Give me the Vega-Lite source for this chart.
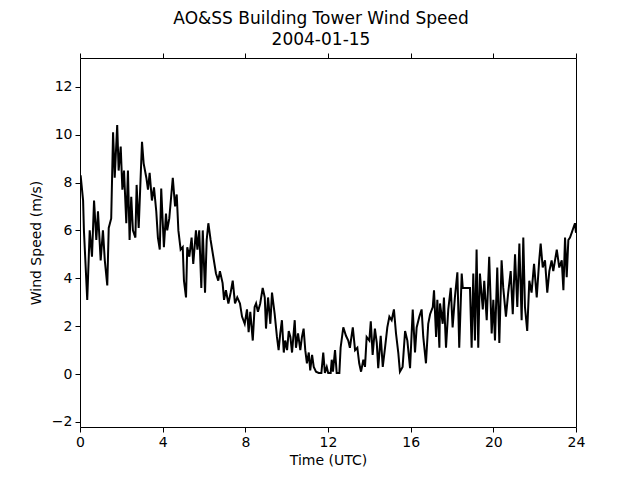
{
  "$schema": "https://vega.github.io/schema/vega-lite/v6.json",
  "width": 496,
  "height": 369,
  "autosize": {"type": "none"},
  "padding": {"left": 80, "top": 58, "right": 64, "bottom": 53},
  "background": "white",
  "title": {
    "text": ["AO&SS Building Tower Wind Speed", "2004-01-15"],
    "font": "DejaVu Sans",
    "fontSize": 17,
    "fontWeight": "normal",
    "color": "black",
    "anchor": "middle",
    "dx": -7,
    "lineHeight": 21,
    "offset": 4
  },
  "config": {
    "view": {"stroke": "black", "strokeWidth": 1},
    "axis": {
      "domain": false,
      "grid": false,
      "tickColor": "black",
      "tickSize": 5,
      "tickWidth": 1,
      "labelFont": "DejaVu Sans",
      "labelFontSize": 14,
      "labelColor": "black",
      "labelPadding": 3,
      "titleFont": "DejaVu Sans",
      "titleFontSize": 14,
      "titleFontWeight": "normal",
      "titleColor": "black"
    }
  },
  "data": {
    "values": [
      {"t": 0.0, "ws": 8.2}, {"t": 0.03, "ws": 8.3}, {"t": 0.15, "ws": 7.25}, {"t": 0.19, "ws": 6.0},
      {"t": 0.35, "ws": 3.1}, {"t": 0.47, "ws": 6.0}, {"t": 0.58, "ws": 4.9}, {"t": 0.68, "ws": 7.25},
      {"t": 0.79, "ws": 5.6}, {"t": 0.87, "ws": 6.8}, {"t": 1.0, "ws": 4.75}, {"t": 1.11, "ws": 6.0},
      {"t": 1.2, "ws": 4.75}, {"t": 1.32, "ws": 3.7}, {"t": 1.39, "ws": 6.1}, {"t": 1.51, "ws": 6.5},
      {"t": 1.6, "ws": 10.1}, {"t": 1.68, "ws": 8.2}, {"t": 1.8, "ws": 10.4}, {"t": 1.87, "ws": 8.5},
      {"t": 1.97, "ws": 9.5}, {"t": 2.05, "ws": 7.7}, {"t": 2.13, "ws": 8.5}, {"t": 2.24, "ws": 6.3},
      {"t": 2.32, "ws": 8.5}, {"t": 2.4, "ws": 5.6}, {"t": 2.48, "ws": 7.4}, {"t": 2.56, "ws": 6.0},
      {"t": 2.68, "ws": 5.7}, {"t": 2.74, "ws": 7.9}, {"t": 2.84, "ws": 6.1}, {"t": 3.0, "ws": 9.7},
      {"t": 3.08, "ws": 8.8}, {"t": 3.21, "ws": 8.2}, {"t": 3.29, "ws": 7.7}, {"t": 3.37, "ws": 8.4},
      {"t": 3.48, "ws": 7.25}, {"t": 3.58, "ws": 7.8}, {"t": 3.69, "ws": 6.8}, {"t": 3.77, "ws": 5.7},
      {"t": 3.86, "ws": 5.2}, {"t": 3.93, "ws": 7.75}, {"t": 4.0, "ws": 6.4}, {"t": 4.06, "ws": 5.3},
      {"t": 4.16, "ws": 6.7}, {"t": 4.22, "ws": 6.0}, {"t": 4.32, "ws": 6.5}, {"t": 4.49, "ws": 8.2},
      {"t": 4.6, "ws": 7.0}, {"t": 4.68, "ws": 7.5}, {"t": 4.76, "ws": 6.0}, {"t": 4.87, "ws": 5.2},
      {"t": 4.97, "ws": 5.3}, {"t": 5.03, "ws": 3.9}, {"t": 5.13, "ws": 3.2}, {"t": 5.19, "ws": 5.3},
      {"t": 5.29, "ws": 4.9}, {"t": 5.4, "ws": 5.7}, {"t": 5.48, "ws": 4.6}, {"t": 5.61, "ws": 6.0},
      {"t": 5.68, "ws": 5.2}, {"t": 5.77, "ws": 6.0}, {"t": 5.87, "ws": 3.6}, {"t": 5.94, "ws": 6.0},
      {"t": 6.05, "ws": 3.4}, {"t": 6.13, "ws": 5.6}, {"t": 6.21, "ws": 6.3}, {"t": 6.32, "ws": 5.6},
      {"t": 6.45, "ws": 4.9}, {"t": 6.58, "ws": 4.2}, {"t": 6.69, "ws": 3.9}, {"t": 6.77, "ws": 4.3},
      {"t": 6.9, "ws": 3.8}, {"t": 6.97, "ws": 3.1}, {"t": 7.06, "ws": 3.5}, {"t": 7.18, "ws": 2.95},
      {"t": 7.29, "ws": 3.4}, {"t": 7.39, "ws": 3.9}, {"t": 7.5, "ws": 2.95}, {"t": 7.61, "ws": 3.2},
      {"t": 7.74, "ws": 2.95}, {"t": 7.84, "ws": 2.4}, {"t": 7.97, "ws": 2.1}, {"t": 8.08, "ws": 2.7},
      {"t": 8.16, "ws": 1.75}, {"t": 8.24, "ws": 2.6}, {"t": 8.36, "ws": 1.4}, {"t": 8.45, "ws": 2.8},
      {"t": 8.52, "ws": 2.95}, {"t": 8.61, "ws": 2.6}, {"t": 8.72, "ws": 2.95}, {"t": 8.84, "ws": 3.6},
      {"t": 8.94, "ws": 3.2}, {"t": 9.0, "ws": 1.9}, {"t": 9.1, "ws": 3.2}, {"t": 9.21, "ws": 2.1},
      {"t": 9.29, "ws": 3.4}, {"t": 9.42, "ws": 2.5}, {"t": 9.53, "ws": 1.55}, {"t": 9.61, "ws": 1.0},
      {"t": 9.69, "ws": 1.7}, {"t": 9.77, "ws": 2.25}, {"t": 9.86, "ws": 0.9}, {"t": 9.93, "ws": 1.4},
      {"t": 10.02, "ws": 1.0}, {"t": 10.1, "ws": 1.8}, {"t": 10.18, "ws": 1.55}, {"t": 10.26, "ws": 0.9},
      {"t": 10.39, "ws": 2.25}, {"t": 10.45, "ws": 1.1}, {"t": 10.55, "ws": 1.7}, {"t": 10.66, "ws": 1.0},
      {"t": 10.74, "ws": 1.55}, {"t": 10.82, "ws": 1.9}, {"t": 10.9, "ws": 1.0}, {"t": 10.98, "ws": 0.45},
      {"t": 11.07, "ws": 0.9}, {"t": 11.14, "ws": 0.15}, {"t": 11.23, "ws": 0.8}, {"t": 11.31, "ws": 0.3},
      {"t": 11.42, "ws": 0.1}, {"t": 11.55, "ws": 0.05}, {"t": 11.68, "ws": 0.05}, {"t": 11.77, "ws": 0.9},
      {"t": 11.85, "ws": 0.05}, {"t": 11.94, "ws": 0.3}, {"t": 12.01, "ws": 0.05}, {"t": 12.13, "ws": 0.05},
      {"t": 12.18, "ws": 0.6}, {"t": 12.24, "ws": 0.1}, {"t": 12.34, "ws": 1.0}, {"t": 12.42, "ws": 0.05},
      {"t": 12.55, "ws": 0.05}, {"t": 12.61, "ws": 1.1}, {"t": 12.74, "ws": 1.95}, {"t": 12.87, "ws": 1.6},
      {"t": 12.98, "ws": 1.4}, {"t": 13.06, "ws": 1.1}, {"t": 13.2, "ws": 1.95}, {"t": 13.31, "ws": 1.0},
      {"t": 13.42, "ws": 1.1}, {"t": 13.51, "ws": 0.45}, {"t": 13.6, "ws": 0.1}, {"t": 13.71, "ws": 0.6},
      {"t": 13.79, "ws": 0.3}, {"t": 13.87, "ws": 1.55}, {"t": 14.0, "ws": 1.4}, {"t": 14.07, "ws": 2.2},
      {"t": 14.16, "ws": 0.8}, {"t": 14.27, "ws": 1.9}, {"t": 14.36, "ws": 1.3}, {"t": 14.43, "ws": 0.25},
      {"t": 14.55, "ws": 1.6}, {"t": 14.65, "ws": 0.3}, {"t": 14.76, "ws": 1.1}, {"t": 14.87, "ws": 1.95},
      {"t": 14.97, "ws": 2.4}, {"t": 15.08, "ws": 2.25}, {"t": 15.19, "ws": 2.7}, {"t": 15.29, "ws": 1.7},
      {"t": 15.4, "ws": 0.9}, {"t": 15.48, "ws": 0.1}, {"t": 15.61, "ws": 0.3}, {"t": 15.73, "ws": 1.8},
      {"t": 15.84, "ws": 1.4}, {"t": 15.97, "ws": 0.25}, {"t": 16.1, "ws": 2.7}, {"t": 16.21, "ws": 0.9},
      {"t": 16.29, "ws": 1.95}, {"t": 16.42, "ws": 2.4}, {"t": 16.53, "ws": 2.7}, {"t": 16.61, "ws": 1.55},
      {"t": 16.74, "ws": 0.45}, {"t": 16.85, "ws": 2.1}, {"t": 16.94, "ws": 2.5}, {"t": 17.07, "ws": 2.8},
      {"t": 17.13, "ws": 3.5}, {"t": 17.23, "ws": 1.55}, {"t": 17.29, "ws": 3.1}, {"t": 17.39, "ws": 1.1},
      {"t": 17.42, "ws": 2.95}, {"t": 17.55, "ws": 2.1}, {"t": 17.61, "ws": 3.2}, {"t": 17.71, "ws": 1.1},
      {"t": 17.82, "ws": 2.7}, {"t": 17.94, "ws": 3.6}, {"t": 18.03, "ws": 1.95}, {"t": 18.14, "ws": 3.2},
      {"t": 18.26, "ws": 4.25}, {"t": 18.35, "ws": 1.1}, {"t": 18.47, "ws": 4.2}, {"t": 18.52, "ws": 3.6},
      {"t": 18.87, "ws": 3.6}, {"t": 18.95, "ws": 1.1}, {"t": 19.03, "ws": 4.2}, {"t": 19.11, "ws": 1.4},
      {"t": 19.19, "ws": 5.2}, {"t": 19.27, "ws": 1.1}, {"t": 19.35, "ws": 4.2}, {"t": 19.49, "ws": 2.7},
      {"t": 19.56, "ws": 3.9}, {"t": 19.68, "ws": 2.25}, {"t": 19.8, "ws": 4.9}, {"t": 19.92, "ws": 1.7},
      {"t": 20.0, "ws": 3.1}, {"t": 20.08, "ws": 1.4}, {"t": 20.19, "ws": 4.45}, {"t": 20.29, "ws": 1.3},
      {"t": 20.4, "ws": 4.75}, {"t": 20.48, "ws": 3.6}, {"t": 20.61, "ws": 2.4}, {"t": 20.72, "ws": 3.4},
      {"t": 20.84, "ws": 4.3}, {"t": 20.94, "ws": 2.5}, {"t": 21.05, "ws": 5.0}, {"t": 21.16, "ws": 2.8},
      {"t": 21.26, "ws": 5.45}, {"t": 21.37, "ws": 2.25}, {"t": 21.45, "ws": 5.7}, {"t": 21.53, "ws": 2.8},
      {"t": 21.64, "ws": 1.8}, {"t": 21.74, "ws": 3.9}, {"t": 21.85, "ws": 3.4}, {"t": 21.97, "ws": 4.6},
      {"t": 22.1, "ws": 3.2}, {"t": 22.22, "ws": 4.75}, {"t": 22.29, "ws": 5.45}, {"t": 22.39, "ws": 4.45},
      {"t": 22.5, "ws": 4.75}, {"t": 22.61, "ws": 3.4}, {"t": 22.71, "ws": 4.3}, {"t": 22.82, "ws": 4.75},
      {"t": 22.9, "ws": 4.3}, {"t": 23.07, "ws": 5.2}, {"t": 23.19, "ws": 4.45}, {"t": 23.31, "ws": 4.75},
      {"t": 23.39, "ws": 3.5}, {"t": 23.47, "ws": 5.7}, {"t": 23.55, "ws": 4.05}, {"t": 23.63, "ws": 5.6},
      {"t": 23.71, "ws": 5.7}, {"t": 23.79, "ws": 5.9}, {"t": 23.87, "ws": 6.1}, {"t": 23.95, "ws": 6.3},
      {"t": 24.0, "ws": 5.9}
    ]
  },
  "layer": [
    {
      "mark": {"type": "line", "color": "black", "strokeWidth": 2, "clip": true},
      "encoding": {
        "x": {
          "field": "t", "type": "quantitative",
          "scale": {"domain": [0, 24], "nice": false, "zero": false},
          "axis": {"values": [0, 4, 8, 12, 16, 20, 24], "title": "Time (UTC)", "titlePadding": 4, "labelFlush": false}
        },
        "y": {
          "field": "ws", "type": "quantitative",
          "scale": {"domain": [-2.21, 13.2], "nice": false, "zero": false},
          "axis": {"values": [-2, 0, 2, 4, 6, 8, 10, 12], "title": "Wind Speed (m/s)", "titlePadding": 8,
                   "labelExpr": "replace(datum.label, '-', '−')"}
        }
      }
    },
    {
      "mark": {"type": "line", "opacity": 0},
      "encoding": {
        "x": {
          "field": "t", "type": "quantitative",
          "axis": {"orient": "top", "values": [0, 4, 8, 12, 16, 20, 24], "labels": false, "title": null}
        },
        "y": {"field": "ws", "type": "quantitative"}
      }
    }
  ],
  "resolve": {"axis": {"x": "independent"}}
}
